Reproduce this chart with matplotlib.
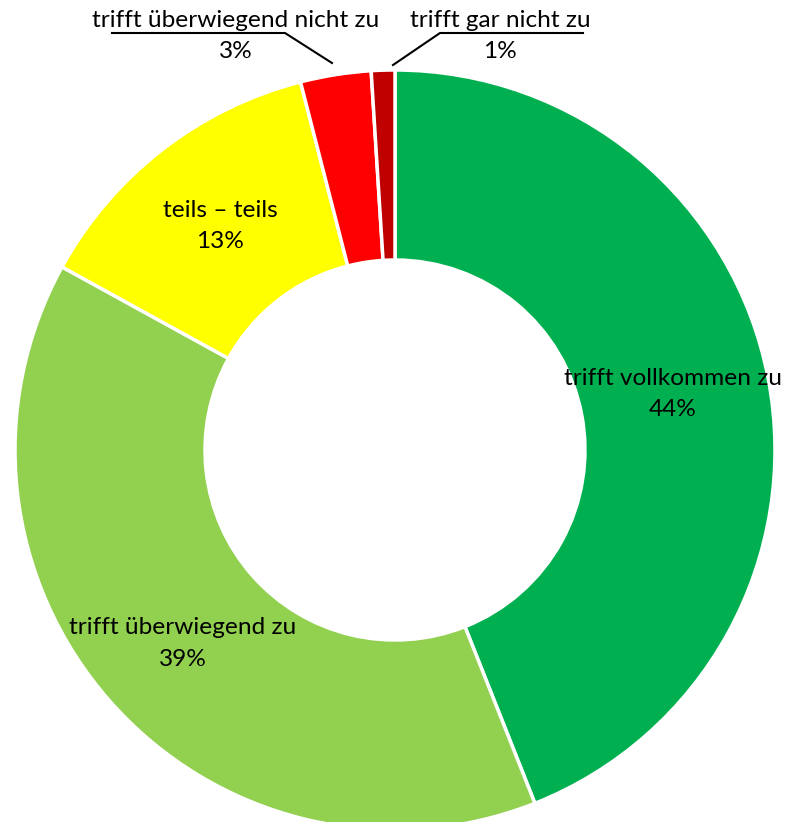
import matplotlib
matplotlib.use("Agg")
import matplotlib.pyplot as plt

categories = ["trifft vollkommen zu", "trifft überwiegend zu", "teils – teils",
              "trifft überwiegend nicht zu", "trifft gar nicht zu"]
values = [44, 39, 13, 3, 1]
pct_labels = ["44%", "39%", "13%", "3%", "1%"]
colors = ["#00B050", "#92D050", "#FFFF00", "#FF0000", "#C00000"]

W, H = 787, 822
fig = plt.figure(figsize=(W / 100, H / 100), dpi=100)
ax = fig.add_axes([0, 0, 1, 1])
ax.set_xlim(0, W)
ax.set_ylim(0, H)
ax.set_aspect("equal")
ax.axis("off")

cx, cy = 395, H - 450
R = 380
ax.pie(values, colors=colors, startangle=90, counterclock=False,
       center=(cx, cy), radius=R, frame=True,
       wedgeprops=dict(width=190, edgecolor="white", linewidth=2.5))
ax.set_xlim(0, W)
ax.set_ylim(0, H)
ax.axis("off")

font = dict(family=["Lato", "DejaVu Sans"], fontsize=17.6, color="black",
            ha="center", va="center")
# label positions (pixel coords from top)
pos = [(673, 378), (183, 628), (220, 210), (236, 20), (500, 20)]
for (x, y), cat, p in zip(pos, categories, pct_labels):
    ax.text(x, H - y, cat, **font)
    ax.text(x, H - y - 31, p, **font)

# leader lines
ax.plot([112, 285, 332], [H - 33, H - 33, H - 63], color="black", lw=1.5)
ax.plot([393, 440, 583], [H - 65, H - 33, H - 33], color="black", lw=1.5)

fig.savefig("out.png", dpi=100)
